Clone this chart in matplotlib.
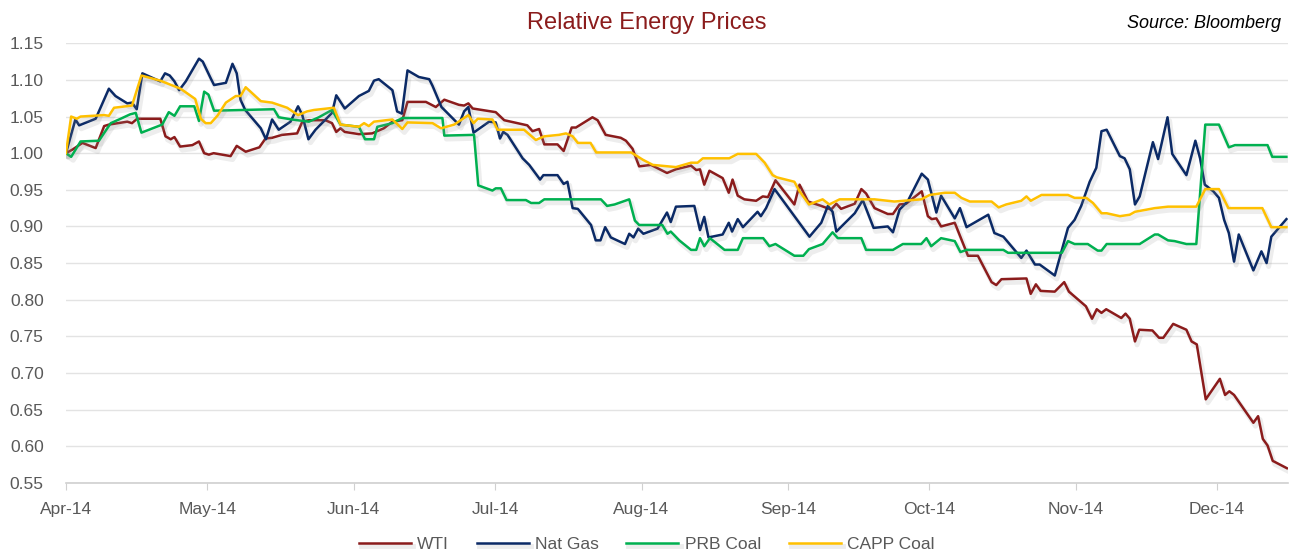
"""Relative energy prices, Apr-Dec 2014 (index, 1 Apr 2014 = 1.00)."""

import matplotlib
matplotlib.use('Agg')
import matplotlib.pyplot as plt
import matplotlib.dates as mdates
import matplotlib.patheffects as pe
import pandas as pd

START = pd.Timestamp('2014-04-01')

# values: days since 1 Apr 2014, index value
wti_days = [0, 1.4, 3.5, 6.3, 8.1, 9.1, 13, 14, 15.1, 20, 21.1, 22.2, 23, 24.2, 26.8, 28.2,
            29.3, 30.3, 31.3, 34.9, 36.2, 38.1, 41, 42.3, 43.7, 45.8, 49, 50.1, 51.5, 55,
            56.4, 57.3, 58.2, 59.1, 62.1, 64.9, 67.4, 69.2, 71.3, 72.4, 76.3, 78.4, 80.2,
            83.3, 84.4, 85.3, 86.2, 91.1, 92.9, 97.8, 98.9, 100.3, 101.4, 104.2, 105.5,
            107.2, 108.1, 111.6, 112.7, 114.4, 117.6, 118.7, 120.1, 121.5, 124, 127.4,
            129.3, 132.5, 133.6, 134.4, 135.3, 136.4, 139.2, 140.5, 141.3, 142.4, 143.8,
            146.3, 147.7, 148.8, 150.4, 154.4, 155.5, 157.3, 160.1, 162.2, 163.3, 164.3,
            167.2, 168.6, 169.6, 171.4, 174.2, 175.3, 176.7, 178.1, 181.4, 182.7, 183.5,
            184.5, 185.5, 188.4, 191.2, 193.3, 196.2, 197.2, 198.3, 203.6, 204.5, 205.6,
            206.6, 209.6, 211.6, 212.6, 216.2, 217.5, 218.5, 219.5, 220.5, 223.7, 224.6,
            225.5, 226.6, 227.5, 230.3, 231.7, 232.6, 234.7, 237.5, 238.6, 239.7, 241.6,
            244.6, 245.7, 246.6, 247.6, 251.7, 252.7, 253.7, 254.7, 255.8, 258.8]
wti_vals = [1.000, 1.005, 1.014, 1.007, 1.037, 1.039, 1.043, 1.041, 1.047, 1.047, 1.023,
            1.019, 1.022, 1.009, 1.011, 1.016, 1.000, 0.998, 1.000, 0.996, 1.010, 1.002,
            1.008, 1.020, 1.021, 1.025, 1.027, 1.043, 1.045, 1.045, 1.041, 1.029, 1.034,
            1.029, 1.026, 1.027, 1.034, 1.043, 1.045, 1.070, 1.070, 1.063, 1.073, 1.066,
            1.065, 1.068, 1.061, 1.056, 1.045, 1.038, 1.030, 1.033, 1.012, 1.012, 1.003,
            1.035, 1.035, 1.049, 1.045, 1.025, 1.021, 1.017, 1.006, 0.982, 0.984, 0.973,
            0.978, 0.983, 0.977, 0.978, 0.957, 0.976, 0.966, 0.946, 0.964, 0.942, 0.937,
            0.935, 0.941, 0.940, 0.963, 0.930, 0.957, 0.934, 0.928, 0.923, 0.931, 0.924,
            0.931, 0.951, 0.945, 0.925, 0.917, 0.917, 0.930, 0.931, 0.948, 0.914, 0.910,
            0.911, 0.900, 0.905, 0.860, 0.860, 0.824, 0.820, 0.828, 0.829, 0.808, 0.821,
            0.812, 0.811, 0.824, 0.811, 0.791, 0.774, 0.787, 0.782, 0.787, 0.775, 0.781,
            0.774, 0.743, 0.759, 0.758, 0.748, 0.748, 0.767, 0.759, 0.743, 0.739, 0.664,
            0.692, 0.670, 0.675, 0.670, 0.632, 0.641, 0.610, 0.601, 0.580, 0.570]

gas_days = [0, 2, 2.8, 6.3, 9.1, 10.5, 13, 14, 15, 16.2, 20, 21, 22, 23, 24, 25.4, 28.2,
            29, 30.7, 31.4, 33.9, 35.3, 36.2, 37, 38, 41.3, 42.4, 43.7, 45.1, 47.6, 49.2,
            50.1, 51.4, 52.9, 56.4, 57.3, 59.1, 62.1, 64.2, 65.3, 66.3, 69.2, 70.2, 71.2,
            72.4, 74.8, 77, 77.7, 79.6, 83.3, 84.4, 85.3, 86.4, 89.7, 91.1, 92, 92.7, 93.6,
            96.8, 98.2, 100.5, 101.2, 104.2, 105.5, 106.3, 107.4, 108.5, 111.3, 112.3,
            113.3, 114.3, 115.5, 118.5, 119.4, 120.3, 121.3, 122.4, 125.4, 127.4, 128.2,
            129.3, 133.2, 134.4, 135.3, 136.2, 139.2, 140.5, 141.2, 142.4, 143.5, 146.6,
            147.3, 148.4, 150.2, 157.6, 160.1, 161.5, 162.5, 163.3, 167.2, 168.9, 171.2,
            174.2, 175.3, 176.7, 178.4, 181.4, 182.7, 184.5, 185.5, 188.4, 189.5, 190.9,
            195.5, 196.8, 198.7, 202.5, 203.6, 205.4, 206.4, 209.6, 212.4, 213.8, 215.2,
            217, 218.4, 219.5, 220.6, 223.4, 224.4, 225.5, 226.6, 227.6, 230.4, 231.5,
            233.5, 234.5, 237.5, 239.4, 240.4, 241.4, 243.2, 244.4, 245.5, 246.5, 247.6,
            248.6, 251.7, 253.4, 254.5, 255.5, 258.7]
gas_vals = [1.000, 1.046, 1.038, 1.047, 1.088, 1.078, 1.068, 1.069, 1.060, 1.109, 1.098,
            1.109, 1.106, 1.098, 1.086, 1.098, 1.129, 1.125, 1.102, 1.093, 1.096, 1.122,
            1.109, 1.073, 1.059, 1.034, 1.019, 1.046, 1.032, 1.043, 1.064, 1.052, 1.019,
            1.032, 1.055, 1.079, 1.061, 1.078, 1.085, 1.099, 1.101, 1.086, 1.057, 1.054,
            1.113, 1.104, 1.101, 1.092, 1.063, 1.039, 1.057, 1.063, 1.028, 1.043, 1.042,
            1.020, 1.029, 1.025, 0.993, 0.984, 0.964, 0.970, 0.970, 0.958, 0.961, 0.925,
            0.924, 0.902, 0.881, 0.881, 0.899, 0.885, 0.876, 0.890, 0.885, 0.897, 0.890,
            0.897, 0.919, 0.906, 0.927, 0.928, 0.895, 0.913, 0.885, 0.889, 0.905, 0.893,
            0.910, 0.899, 0.920, 0.914, 0.925, 0.951, 0.886, 0.905, 0.928, 0.920, 0.893,
            0.918, 0.936, 0.898, 0.900, 0.892, 0.923, 0.934, 0.972, 0.964, 0.919, 0.942,
            0.911, 0.925, 0.899, 0.916, 0.891, 0.886, 0.857, 0.867, 0.848, 0.848, 0.833,
            0.898, 0.909, 0.928, 0.961, 0.980, 1.030, 1.032, 0.996, 0.993, 0.978, 0.930,
            0.941, 1.015, 0.992, 1.049, 0.999, 0.970, 1.017, 0.993, 0.957, 0.948, 0.939,
            0.909, 0.891, 0.852, 0.889, 0.840, 0.866, 0.850, 0.886, 0.910]

prb_days = [0, 1.1, 3.1, 7, 9.5, 11.6, 13.6, 14.8, 16, 20.4, 21.8, 23, 24.2, 27.2, 28.2,
            29.3, 30.2, 31.4, 44.1, 45.1, 47.9, 51.5, 53.6, 56.4, 58.2, 62.1, 63.4, 65.3,
            66, 69.2, 71.3, 79.8, 80.2, 86.5, 87.4, 90.4, 91.1, 92.2, 93.4, 97.5, 98.6,
            100.3, 101.4, 113.4, 114.7, 116.3, 119.4, 120.6, 121.5, 126.4, 127.5, 128.2,
            130, 132.5, 133.6, 134.4, 135.3, 136.5, 139.6, 142.4, 143.5, 147.8, 149.1,
            150.4, 154.4, 156.3, 157.5, 160.4, 162.5, 163.6, 168.6, 169.6, 175.3, 177.4,
            181.3, 182.4, 183.4, 185.5, 188.4, 189.6, 190.9, 198.7, 199.7, 211.1, 212.4,
            213.8, 216.6, 218.7, 219.5, 220.6, 227.6, 230.8, 231.5, 233.6, 235, 237.5,
            239.6, 241.5, 244.4, 246.5, 247.8, 254.7, 255.7, 258.7]
prb_vals = [1.000, 0.995, 1.016, 1.017, 1.041, 1.047, 1.053, 1.055, 1.028, 1.039, 1.056,
            1.051, 1.064, 1.064, 1.044, 1.084, 1.080, 1.058, 1.060, 1.049, 1.046, 1.043,
            1.049, 1.059, 1.039, 1.036, 1.019, 1.019, 1.036, 1.041, 1.048, 1.048, 1.024,
            1.025, 0.956, 0.949, 0.952, 0.952, 0.936, 0.936, 0.932, 0.932, 0.937, 0.937,
            0.928, 0.930, 0.937, 0.908, 0.902, 0.902, 0.890, 0.893, 0.881, 0.868, 0.868,
            0.884, 0.873, 0.884, 0.868, 0.868, 0.884, 0.884, 0.873, 0.876, 0.860, 0.860,
            0.869, 0.876, 0.892, 0.884, 0.884, 0.868, 0.868, 0.876, 0.876, 0.884, 0.873,
            0.884, 0.880, 0.865, 0.868, 0.868, 0.864, 0.864, 0.880, 0.876, 0.876, 0.867,
            0.867, 0.876, 0.876, 0.889, 0.889, 0.881, 0.880, 0.876, 0.876, 1.039, 1.039,
            1.008, 1.011, 1.011, 0.995, 0.995]

capp_days = [0, 1.1, 2.3, 3.1, 8.1, 9.1, 10.2, 14, 16, 20, 24.3, 27.4, 28.6, 29.6, 30.7,
             32.1, 33.9, 36, 37, 38.1, 41.3, 43.7, 46.9, 49.2, 51.1, 52.6, 56.8, 58.2,
             62.1, 63.2, 64.2, 65.3, 69.2, 71.3, 72.4, 77.7, 79.5, 82.3, 85.3, 86.4, 87.3,
             90.4, 91.5, 97.1, 99.6, 101.4, 104.5, 106, 107.4, 108.5, 111.2, 112.4, 119.8,
             122.3, 124.4, 129.3, 132.5, 133.9, 135, 140.6, 142.4, 146.3, 148.1, 149.8,
             150.7, 154.4, 155.5, 157.5, 160.4, 161.8, 164, 168.9, 171.4, 175.6, 181.3,
             183.1, 186.3, 188.4, 189.8, 191.6, 196.2, 197.7, 199.3, 202.5, 203.6, 204.5,
             206.8, 212.4, 213.8, 216.3, 217.7, 219.5, 220.6, 223.4, 225.5, 226.6, 230.8,
             233.6, 239.6, 241.5, 244.4, 246.4, 253.6, 255.5, 258.7]
capp_vals = [1.000, 1.050, 1.047, 1.050, 1.052, 1.051, 1.062, 1.065, 1.106, 1.099, 1.088,
             1.074, 1.047, 1.041, 1.041, 1.051, 1.069, 1.078, 1.078, 1.090, 1.071, 1.069,
             1.062, 1.052, 1.057, 1.059, 1.062, 1.039, 1.036, 1.041, 1.037, 1.043, 1.046,
             1.033, 1.042, 1.041, 1.034, 1.039, 1.052, 1.041, 1.047, 1.046, 1.032, 1.032,
             1.018, 1.023, 1.025, 1.027, 1.023, 1.014, 1.014, 1.001, 1.001, 0.991, 0.984,
             0.981, 0.987, 0.987, 0.993, 0.993, 0.999, 0.999, 0.987, 0.970, 0.967, 0.961,
             0.948, 0.930, 0.937, 0.930, 0.937, 0.937, 0.937, 0.934, 0.937, 0.943, 0.946,
             0.946, 0.939, 0.934, 0.934, 0.926, 0.930, 0.935, 0.941, 0.935, 0.943, 0.943,
             0.939, 0.939, 0.932, 0.918, 0.918, 0.914, 0.916, 0.920, 0.925, 0.927, 0.927,
             0.951, 0.951, 0.925, 0.925, 0.899, 0.899]

series = [('WTI', wti_days, wti_vals, '#8B1C1C'),
          ('Nat Gas', gas_days, gas_vals, '#0B2A66'),
          ('PRB Coal', prb_days, prb_vals, '#00B050'),
          ('CAPP Coal', capp_days, capp_vals, '#FFC000')]

FONT = ['Liberation Sans Narrow', 'Liberation Sans', 'DejaVu Sans']
plt.rcParams['font.family'] = FONT
GREY = '#595959'

fig = plt.figure(figsize=(12.93, 5.55), dpi=100)
ax = fig.add_axes([0.051, 0.130, 0.945, 0.792])

# soft drop shadow under each line, like the original
shadow = [pe.SimpleLineShadow(offset=(1.5, -2.5), shadow_color='#8f8f8f', alpha=0.16,
                              linewidth=3.5),
          pe.Normal()]
for name, days, vals, color in series:
    dates = START + pd.to_timedelta(days, unit='D')
    ax.plot(dates, vals, color=color, lw=1.8, label=name, path_effects=shadow)

ax.set_ylim(0.55, 1.15)
ax.set_yticks([0.55 + 0.05 * i for i in range(13)])
ax.yaxis.set_major_formatter(matplotlib.ticker.FormatStrFormatter('%.2f'))
ax.set_xlim(START, START + pd.Timedelta(days=259))
ax.xaxis.set_major_locator(mdates.MonthLocator())
ax.xaxis.set_major_formatter(mdates.DateFormatter('%b-%y'))

ax.grid(axis='y', color='#E3E3E3', lw=1)
ax.set_axisbelow(True)
for side in ('left', 'right', 'top'):
    ax.spines[side].set_visible(False)
ax.spines['bottom'].set_color('#D0D0D0')
ax.spines['bottom'].set_linewidth(1.2)
ax.tick_params(axis='y', length=0, pad=16, labelsize=12.5, labelcolor=GREY)
ax.tick_params(axis='x', length=5, color='#D0D0D0', pad=9, labelsize=12.5, labelcolor=GREY)

fig.text(0.5, 0.958, 'Relative Energy Prices', ha='center', va='center',
         fontsize=17, color='#8B1C1C')
fig.text(0.991, 0.958, 'Source: Bloomberg', ha='right', va='center',
         fontsize=13, style='italic', color='black')

fig.legend(loc='lower center', bbox_to_anchor=(0.5, -0.022), ncol=4, frameon=False,
           fontsize=12.5, handlelength=3.0, columnspacing=1.6, handletextpad=0.35,
           labelcolor=GREY)

fig.savefig('out.png', dpi=100)
